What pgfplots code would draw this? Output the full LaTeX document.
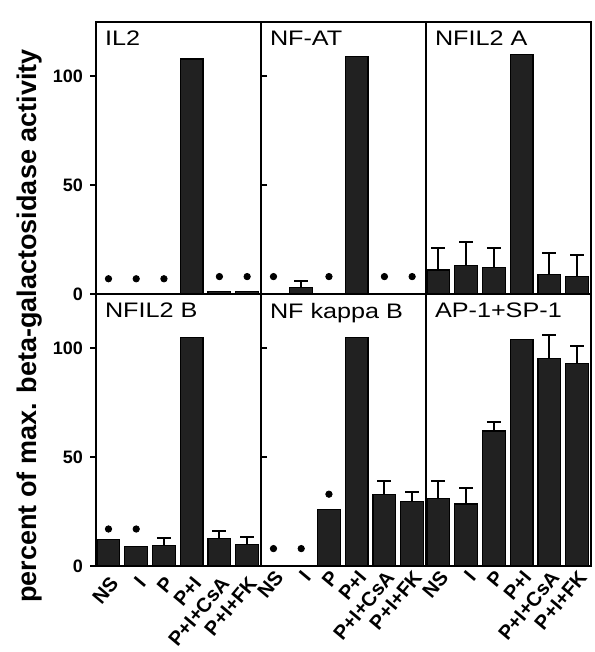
\documentclass[border=0pt]{standalone}
\usepackage{fontspec}
\setmainfont{Liberation Sans}
\newfontfamily\widefont[FakeStretch=1.2]{Liberation Sans}
\usepackage{pgfplots}
\pgfplotsset{compat=1.18}
\usepgfplotslibrary{groupplots}

% bar style shared by all panels
\pgfplotsset{
  barstyle/.style={ybar, bar width=0.82, bar shift=0pt, fill=black!87, draw=black, line width=0.6pt},
  errstyle/.style={draw=none, mark=none, forget plot,
    error bars/.cd, y dir=plus, y explicit,
    error bar style={draw=black, line width=1pt},
    error mark options={draw=black, line width=1pt, mark size=3.5pt, rotate=90}},
  dotstyle/.style={only marks, mark=*, mark size=1.6pt, black},
}
\newcommand{\paneltitle}[1]{\node[anchor=north west, inner sep=1pt,
  font=\widefont\fontsize{10.5}{12}\selectfont] at (rel axis cs:0.04,0.975) {#1};}

\begin{document}
\begin{tikzpicture}
\begin{groupplot}[
  group style={group size=3 by 2, horizontal sep=0pt, vertical sep=0pt},
  width=82.5pt, height=136pt, scale only axis,
  xmin=-0.45, xmax=5.5, ymin=0, ymax=125,
  axis line style={line width=1.2pt},
  xtick={0,1,2,3,4,5}, xticklabels={}, xtick style={draw=none},
  ytick={0,50,100}, yticklabels={}, ytick style={draw=none},
  /pgf/number format/assume math mode=true,
  yticklabel style={font=\bfseries\fontsize{9}{10}\selectfont},
  xticklabel style={rotate=50, anchor=north east, inner sep=1pt,
    font=\bfseries\fontsize{10}{12}\selectfont},
]

% IL2
\nextgroupplot[yticklabels={0,50,100}, ytick style={draw, black, line width=1pt},
  tick align=outside, major tick length=3pt]
\addplot[barstyle] coordinates {(0,0) (1,0) (2,0) (3,108) (4,1) (5,1)};
\addplot[dotstyle] coordinates {(0,7) (1,7) (2,7) (4,8) (5,8)};
\paneltitle{IL2}

% NF-AT
\nextgroupplot
\addplot[barstyle] coordinates {(0,0) (1,3) (2,0) (3,109) (4,0) (5,0)};
\addplot[errstyle] coordinates {(1,3) +- (0,3)};
\addplot[dotstyle] coordinates {(0,8) (2,8) (4,8) (5,8)};
\paneltitle{NF-AT}

% NFIL2 A
\nextgroupplot
\addplot[barstyle] coordinates {(0,11) (1,13) (2,12) (3,110) (4,9) (5,8)};
\addplot[errstyle] coordinates {(0,11) +- (0,10) (1,13) +- (0,11) (2,12) +- (0,9) (4,9) +- (0,10) (5,8) +- (0,10)};
\paneltitle{NFIL2 A}

% NFIL2 B
\nextgroupplot[yticklabels={0,50,100}, ytick style={draw, black, line width=1pt},
  tick align=outside, major tick length=3pt,
  xticklabels={NS,I,P,P+I,P+I+CsA,P+I+FK}]
\addplot[barstyle] coordinates {(0,12) (1,9) (2,9.5) (3,105) (4,12.5) (5,10)};
\addplot[errstyle] coordinates {(2,9.5) +- (0,3.5) (4,12.5) +- (0,3.5) (5,10) +- (0,3.5)};
\addplot[dotstyle] coordinates {(0,17) (1,17)};
\paneltitle{NFIL2 B}

% NF kappa B
\nextgroupplot[xticklabels={NS,I,P,P+I,P+I+CsA,P+I+FK}]
\addplot[barstyle] coordinates {(0,0) (1,0) (2,26) (3,105) (4,33) (5,29.5)};
\addplot[errstyle] coordinates {(4,33) +- (0,6) (5,29.5) +- (0,4.5)};
\addplot[dotstyle] coordinates {(0,8) (1,8) (2,33)};
\paneltitle{NF kappa B}

% AP-1+SP-1
\nextgroupplot[xticklabels={NS,I,P,P+I,P+I+CsA,P+I+FK}]
\addplot[barstyle] coordinates {(0,31) (1,28.5) (2,62) (3,104) (4,95.5) (5,93)};
\addplot[errstyle] coordinates {(0,31) +- (0,8) (1,28.5) +- (0,7.5) (2,62) +- (0,4) (4,95.5) +- (0,10.5) (5,93) +- (0,8)};
\paneltitle{AP-1+SP-1}

\end{groupplot}

\node[rotate=90, font=\bfseries\fontsize{13.5}{15}\selectfont]
  at ([xshift=-33pt, yshift=-16pt]group c1r1.south west)
  {percent of max. beta-galactosidase activity};

% page size as the reference
\path ([shift={(-48pt,283pt)}]group c1r2.south west)
  rectangle ([shift={(249pt,-43pt)}]group c1r2.south west);
\end{tikzpicture}
\end{document}
